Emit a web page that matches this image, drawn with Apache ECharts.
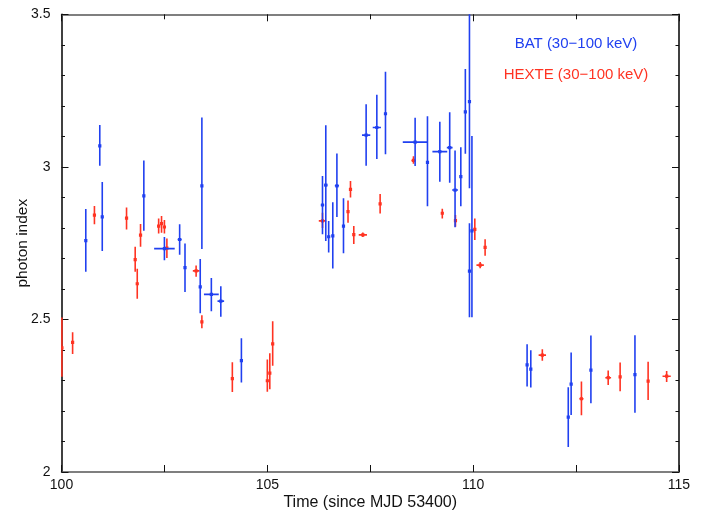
<!DOCTYPE html>
<html>
<head>
<meta charset="utf-8">
<script src="https://cdn.jsdelivr.net/npm/echarts@6/dist/echarts.min.js"></script>
<style>html,body{margin:0;padding:0;background:#fff}#c{width:707px;height:512px}</style>
</head>
<body>
<div id="c"></div>
<script>
// BAT (30-100 keV)
const batX   = [100.59,100.93,100.99,102.00,102.50,102.87,103.00,103.37,103.41,103.64,103.87,104.37,106.34,106.42,106.49,106.59,106.69,106.85,107.40,107.66,107.87,108.59,108.89,109.19,109.43,109.56,109.70,109.81,109.91,109.91,109.97,111.31,111.40,112.31,112.38,112.86,113.93];
const batY   = [2.758,3.069,2.836,2.905,2.732,2.762,2.670,2.607,2.938,2.582,2.560,2.365,2.875,2.940,2.771,2.774,2.938,2.806,3.104,3.129,3.174,3.081,3.015,3.050,3.063,2.924,2.968,3.180,3.214,2.658,2.790,2.351,2.337,2.180,2.288,2.334,2.319];
const batLo  = [2.656,3.004,2.724,2.791,2.694,2.712,2.590,2.520,2.731,2.527,2.509,2.293,2.779,2.757,2.719,2.667,2.836,2.717,3.004,3.026,3.041,3.003,2.871,2.951,2.948,2.802,2.871,3.043,2.930,2.507,2.507,2.280,2.277,2.082,2.187,2.225,2.194];
const batHi  = [2.862,3.137,2.950,3.021,2.770,2.812,2.749,2.698,3.162,2.636,2.609,2.438,2.970,3.136,2.823,2.884,3.044,2.897,3.205,3.236,3.312,3.161,3.166,3.148,3.179,3.054,3.064,3.321,3.550,2.815,3.101,2.419,2.399,2.278,2.392,2.447,2.448];
const batXe  = [0,0,0,0,0.25,0.05,0,0,0,0.18,0.08,0,0.04,0.04,0,0,0.05,0,0.1,0.1,0,0.3,0,0.18,0.07,0.07,0,0,0,0,0,0,0,0,0,0,0];

// HEXTE (30-100 keV)
const hexX   = [100.01,100.27,100.80,101.58,101.79,101.84,101.92,102.36,102.43,102.50,102.56,103.27,103.41,104.15,105.00,105.06,105.13,106.34,106.96,107.02,107.10,107.32,107.74,108.55,109.25,109.57,110.04,110.17,110.29,111.68,112.63,113.28,113.57,114.25,114.70];
const hexY   = [2.407,2.425,2.842,2.832,2.696,2.617,2.776,2.806,2.814,2.803,2.734,2.659,2.492,2.306,2.299,2.324,2.420,2.823,2.853,2.926,2.778,2.777,2.879,3.021,2.848,2.824,2.795,2.678,2.736,2.383,2.240,2.309,2.312,2.298,2.314];
const hexLo  = [2.312,2.387,2.812,2.795,2.656,2.568,2.738,2.782,2.784,2.782,2.701,2.640,2.471,2.262,2.263,2.271,2.348,2.800,2.817,2.900,2.747,2.770,2.847,3.010,2.831,2.804,2.760,2.668,2.709,2.365,2.186,2.285,2.265,2.236,2.295];
const hexHi  = [2.506,2.458,2.872,2.867,2.738,2.666,2.813,2.831,2.839,2.826,2.765,2.677,2.514,2.360,2.369,2.389,2.494,2.850,2.890,2.954,2.806,2.785,2.911,3.035,2.863,2.842,2.831,2.688,2.763,2.402,2.297,2.333,2.359,2.361,2.331];
const hexXe  = [0,0,0,0,0,0,0,0,0,0,0,0.08,0,0,0,0,0,0.09,0,0,0,0.1,0,0.05,0,0,0,0.09,0,0.09,0.05,0.07,0,0,0.1];

const xTicks = [100,105,110,115];
const yTicks = [2,2.5,3,3.5];

function build(xs, ys, lo, hi, xe){
  return xs.map((x,i)=>[x, ys[i], lo[i], hi[i], xe[i]]);
}
function makeRender(color){
  return function(params, api){
    const x=api.value(0), y=api.value(1), lo=api.value(2), hi=api.value(3), xe=api.value(4);
    const c=api.coord([x,y]);
    const pLo=api.coord([x,lo]), pHi=api.coord([x,hi]);
    const children=[{
      type:'line', shape:{x1:c[0],y1:pLo[1],x2:c[0],y2:pHi[1]},
      style:{stroke:color,lineWidth:1.6}
    }];
    if(xe>0){
      const pL=api.coord([x-xe,y]), pR=api.coord([x+xe,y]);
      children.push({type:'line',shape:{x1:pL[0],y1:c[1],x2:pR[0],y2:c[1]},style:{stroke:color,lineWidth:1.6}});
    }
    children.push({type:'rect',shape:{x:c[0]-1.6,y:c[1]-1.6,width:3.2,height:3.2},style:{fill:color}});
    return {type:'group',children:children};
  };
}
const BLUE='#2040f0', RED='#ff3322';
const font='"Liberation Sans", Arial, sans-serif';

const chart=echarts.init(document.getElementById('c'),null,{renderer:'canvas'});
chart.setOption({
  animation:false,
  backgroundColor:'#fff',
  grid:{left:61.5,right:28,top:14.3,bottom:40,containLabel:false,outerBoundsMode:'none'},
  xAxis:[{
    type:'value',min:100,max:115,interval:5,
    position:'bottom',
    name:'Time (since MJD 53400)',nameLocation:'middle',nameGap:23,nameMoveOverlap:false,
    nameTextStyle:{color:'#111',fontSize:16,fontFamily:font},
    axisLine:{show:true,onZero:false,lineStyle:{color:'#555',width:1.5}},
    axisTick:{show:true,inside:true,length:7,lineStyle:{color:'#111',width:1}},
    minorTick:{show:true,splitNumber:2,length:7,lineStyle:{color:'#111',width:1}},
    axisLabel:{color:'#111',fontSize:14,fontFamily:font,margin:6,
      formatter:v=>xTicks.includes(v)?String(v):''},
    splitLine:{show:false}
  },{
    type:'value',min:100,max:115,interval:5,position:'top',
    axisLine:{show:true,onZero:false,lineStyle:{color:'#555',width:1.5}},
    axisTick:{show:true,inside:true,length:7,lineStyle:{color:'#111'}},
    minorTick:{show:true,splitNumber:2,length:5,lineStyle:{color:'#111'}},
    axisLabel:{show:false},splitLine:{show:false}
  }],
  yAxis:[{
    type:'value',min:2,max:3.5,interval:0.5,
    name:'photon index',nameLocation:'middle',nameGap:31,nameRotate:90,nameMoveOverlap:false,
    nameTextStyle:{color:'#111',fontSize:15.5,fontFamily:font},
    axisLine:{show:true,onZero:false,lineStyle:{color:'#000',width:1.5}},
    axisTick:{show:true,inside:true,length:7,lineStyle:{color:'#111'}},
    minorTick:{show:true,splitNumber:5,length:3.5,lineStyle:{color:'#111'}},
    axisLabel:{color:'#111',fontSize:14,fontFamily:font,margin:11,
      formatter:v=>{const t=yTicks.find(k=>Math.abs(k-v)<1e-6);return t===undefined?'':String(t);}},
    splitLine:{show:false}
  },{
    type:'value',min:2,max:3.5,interval:0.5,position:'right',
    axisLine:{show:true,onZero:false,lineStyle:{color:'#000',width:1.5}},
    axisTick:{show:true,inside:true,length:7,lineStyle:{color:'#111'}},
    minorTick:{show:true,splitNumber:5,length:3.5,lineStyle:{color:'#111'}},
    axisLabel:{show:false},splitLine:{show:false}
  }],
  series:[{
    name:'HEXTE (30−100 keV)',type:'custom',clip:true,
    renderItem:makeRender(RED),encode:{x:0,y:1},
    data:build(hexX,hexY,hexLo,hexHi,hexXe)
  },{
    name:'BAT (30−100 keV)',type:'custom',clip:true,
    renderItem:makeRender(BLUE),encode:{x:0,y:1},
    data:build(batX,batY,batLo,batHi,batXe)
  }],
  graphic:[{
    type:'text',x:576,y:44,
    style:{text:'BAT (30−100 keV)',fill:BLUE,font:'15px '+font,textAlign:'center',textVerticalAlign:'middle'}
  },{
    type:'text',x:576,y:75,
    style:{text:'HEXTE (30−100 keV)',fill:RED,font:'15px '+font,textAlign:'center',textVerticalAlign:'middle'}
  }]
});
</script>
</body>
</html>
